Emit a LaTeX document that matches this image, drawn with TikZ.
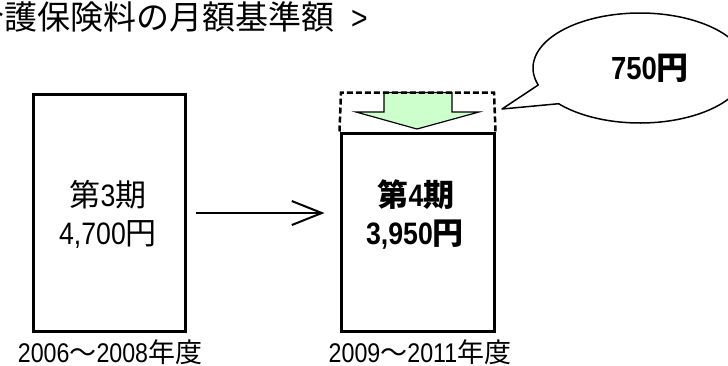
\documentclass[tikz,border=0pt]{standalone}
\usepackage{fontspec}
\setmainfont{Noto Sans CJK JP}
\newfontfamily\lat{Liberation Sans}[FakeStretch=0.86]
\usetikzlibrary{arrows.meta}
\definecolor{lightgreen}{HTML}{CCFFCC}
\begin{document}
\begin{tikzpicture}[x=1pt,y=-1pt,
  periodbox/.style={draw, line width=3pt, inner sep=0pt},
  txt/.style={inner sep=0pt, font=\fontsize{31}{34}\selectfont},
  btxt/.style={inner sep=0pt, font=\fontsize{31}{34}\selectfont\bfseries},
  yeartxt/.style={inner sep=0pt, font=\fontsize{27}{30}\selectfont},
  titletxt/.style={inner sep=0pt, font=\fontsize{33}{36}\selectfont},
  bubbletxt/.style={inner sep=0pt, font=\fontsize{32}{34}\selectfont\bfseries},
  flowarrow/.style={line width=2pt, -{Straight Barb[length=30pt,width=24pt]}},
  downarrow/.style={draw, line width=1.2pt, fill=lightgreen, line join=miter},
  dashedtop/.style={line width=2.5pt, dash pattern=on 6pt off 3pt},
  bubble/.style={draw, line width=1.5pt, fill=white, line join=round}]
\useasboundingbox (0,0) rectangle (728,365);
\clip (0,0) rectangle (728,365);
% title
\node[titletxt, anchor=west] (title) at (-29,17) {介護保険料の月額基準額\hspace{17pt}{\lat >}};
% left box
\node[periodbox, minimum width=152pt, minimum height=237pt] (b3) at (109.5,213) {};
\node[txt] (t3) at (108,195) {第{\lat 3}期};
\node[txt] (p3) at (108,235) {{\lat 4,700}円};
% right box (solid part)
\node[periodbox, minimum width=153pt, minimum height=198.5pt] (b4) at (417.5,232.25) {};
\node[btxt] (t4) at (416,195) {第{\lat 4}期};
\node[btxt] (p4) at (415,235) {{\lat 3,950}円};
% green down arrow
\draw[downarrow] (384,92.5) -- (452,92.5) -- (452,112) -- (479,112) -- (417,129) -- (356,112) -- (384,112) -- cycle;
% dashed former top
\draw[dashedtop] (b4.north west) -- (341,92.5) -- (494,92.5) -- (b4.north east);
% flow arrow
\draw[flowarrow, shorten <=9pt, shorten >=15pt] (b3.east) -- (b3.east -| b4.west);
% callout
\draw[bubble] plot[domain=162:499.5, samples=150] ({640+107*cos(\x)},{68+55*sin(\x)}) -- (502,109) -- cycle;
\node[bubbletxt] (amount) at (650,68) {{\lat 750}円};
% year labels
\node[yeartxt] (y3) at (110,352.5) {{\lat 2006}～{\lat 2008}年度};
\node[yeartxt] (y4) at (420,352.5) {{\lat 2009}～{\lat 2011}年度};
\end{tikzpicture}
\end{document}
